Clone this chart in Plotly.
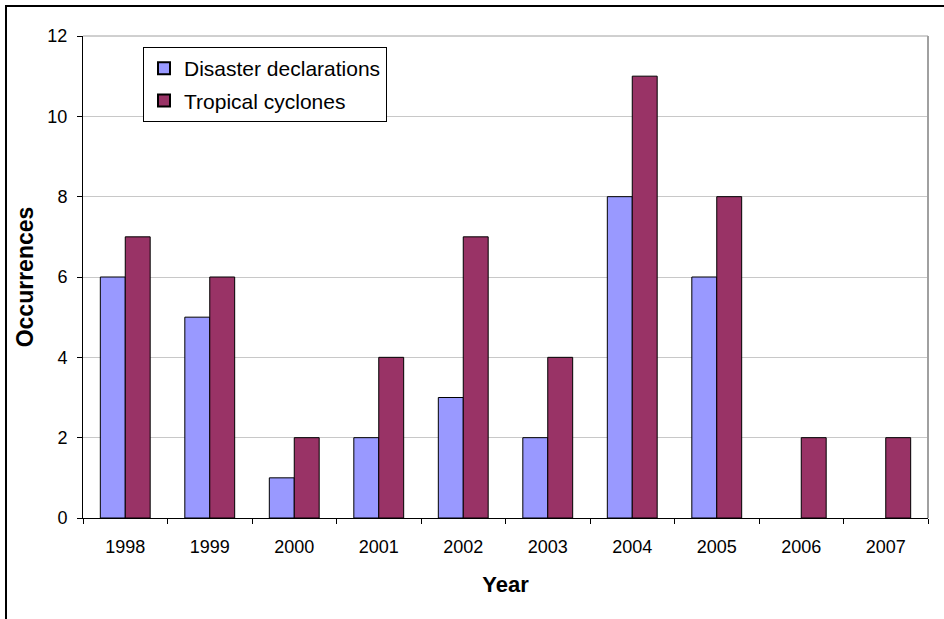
import plotly.graph_objects as go

years = ["1998", "1999", "2000", "2001", "2002", "2003", "2004", "2005", "2006", "2007"]
disaster_declarations = [6, 5, 1, 2, 3, 2, 8, 6, 0, 0]
tropical_cyclones = [7, 6, 2, 4, 7, 4, 11, 8, 2, 2]
y_ticks = [0, 2, 4, 6, 8, 10, 12]

FONT = "Liberation Sans, Arial, sans-serif"


def outline_widths(values):
    # zero-height bars get no outline so nothing shows on the baseline
    return [1 if v > 0 else 0 for v in values]


fig = go.Figure()
fig.add_trace(go.Bar(
    x=years, y=disaster_declarations, name="Disaster declarations", legendgroup="a",
    marker=dict(color="#9999FF", line=dict(color="black", width=outline_widths(disaster_declarations))),
))
fig.add_trace(go.Bar(
    x=years, y=tropical_cyclones, name="Tropical cyclones", legendgroup="b",
    marker=dict(color="#993366", line=dict(color="black", width=outline_widths(tropical_cyclones))),
))

W, H = 944, 619
L, R, T, B = 83, 16, 36, 101
pw, ph = W - L - R, H - T - B


def px_x(p):
    return (p - L) / pw


def px_y(p):
    return (H - B - p) / ph


fig.update_layout(
    width=W, height=H,
    margin=dict(l=L, r=R, t=T, b=B, pad=0),
    paper_bgcolor="white", plot_bgcolor="white",
    font=dict(family=FONT, size=18, color="black"),
    barmode="group", bargap=0.41, bargroupgap=0,
    showlegend=True,
    legend=dict(
        x=px_x(143), y=px_y(47), xanchor="left", yanchor="top",
        bgcolor="white", bordercolor="black", borderwidth=1,
        font=dict(family=FONT, size=21, color="black"),
        itemsizing="constant", tracegroupgap=2,
    ),
    xaxis=dict(
        type="category", showgrid=False, showline=True, linecolor="black", linewidth=1,
        ticks="outside", tickson="boundaries", ticklen=5, tickcolor="black",
        tickfont=dict(size=18), ticklabelstandoff=12,
        title=dict(text="<b>Year</b>", font=dict(size=22), standoff=21),
    ),
    yaxis=dict(
        range=[0, 12], tickvals=y_ticks, showgrid=True, gridcolor="#c8c8c8", gridwidth=1,
        showline=True, linecolor="black", linewidth=1,
        ticks="outside", ticklen=5, tickcolor="black",
        tickfont=dict(size=18), ticklabelstandoff=6,
        title=dict(text="<b>Occurrences</b>", font=dict(size=23), standoff=7),
        zeroline=False,
    ),
    shapes=[
        # outer chart frame
        dict(type="rect", xref="paper", yref="paper",
             x0=px_x(6), x1=px_x(960), y0=px_y(640), y1=px_y(6),
             line=dict(color="black", width=2), fillcolor="rgba(0,0,0,0)", layer="below"),
        # plot area top and right edges
        dict(type="line", xref="paper", yref="paper", x0=0, x1=1, y0=1, y1=1,
             line=dict(color="#a0a0a0", width=1)),
        dict(type="line", xref="paper", yref="paper", x0=1, x1=1, y0=0, y1=1,
             line=dict(color="#a0a0a0", width=2)),
    ],
)

fig.write_html("out.html")
